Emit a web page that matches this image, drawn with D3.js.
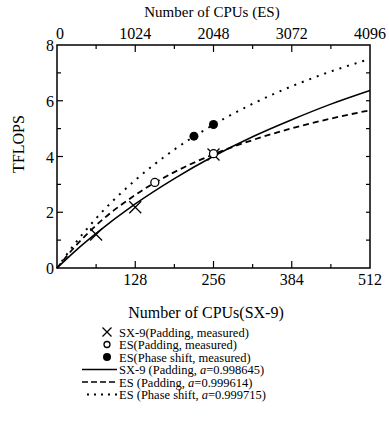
<!doctype html>
<html lang="en">
<head>
  <style>
    body { margin: 0; background: #fff; }
    svg text { font-family: "Liberation Serif", "DejaVu Serif", serif; fill: #000; }
  </style>
  <script src="https://d3js.org/d3.v7.min.js"></script>
</head>
<body>
  <script>
    // fitted curves
    const sx9Cpus = [0, 32, 64, 128, 192, 256, 320, 384, 448, 512];
    const sx9Fit = [0, 0.65, 1.24, 2.3, 3.21, 4.01, 4.71, 5.32, 5.88, 6.37];
    const esCpus = [0, 256, 512, 1024, 1536, 2048, 2560, 3072, 3584, 4096];
    const esPadFit = [0, 0.83, 1.53, 2.62, 3.44, 4.08, 4.59, 5.01, 5.36, 5.66];
    const esPhaseFit = [0, 0.95, 1.78, 3.15, 4.25, 5.14, 5.89, 6.52, 7.05, 7.5];

    // measured points
    const sx9MeasCpus = [64, 128, 256];
    const sx9MeasTflops = [1.2, 2.18, 4.07];
    const esPadMeasCpus = [1280, 2048];
    const esPadMeasTflops = [3.07, 4.1];
    const esPhaseMeasCpus = [1792, 2048];
    const esPhaseMeasTflops = [4.73, 5.15];

    const bottomTicks = [128, 256, 384, 512];
    const topTicks = [0, 1024, 2048, 3072, 4096];
    const yTicks = [0, 2, 4, 6, 8];

    const legendLabels = [
      ["SX-9(Padding, measured)"],
      ["ES(Padding, measured)"],
      ["ES(Phase shift, measured)"],
      ["SX-9 (Padding, ", "0.998645)"],
      ["ES (Padding, ", "0.999614)"],
      ["ES (Phase shift, ", "0.999715)"]
    ];

    const W = 389, H = 436;
    const pLeft = 57, pRight = 370, pTop = 45, pBottom = 268;

    const svg = d3.select("body").append("svg")
      .attr("width", W).attr("height", H);

    const x = d3.scaleLinear().domain([0, 512]).range([pLeft, pRight]);
    const xEs = d3.scaleLinear().domain([0, 4096]).range([pLeft, pRight]);
    const y = d3.scaleLinear().domain([0, 8]).range([pBottom, pTop]);

    // ticks (inward)
    const tickG = svg.append("g").attr("stroke", "#000").attr("stroke-width", 1.2);
    d3.range(64, 512, 64).forEach(v => {
      const len = v % 128 === 0 ? 7 : 4;
      tickG.append("line").attr("x1", x(v)).attr("x2", x(v))
        .attr("y1", pBottom).attr("y2", pBottom - len);
    });
    d3.range(512, 4096, 512).forEach(v => {
      const len = v % 1024 === 0 ? 7 : 4;
      tickG.append("line").attr("x1", xEs(v)).attr("x2", xEs(v))
        .attr("y1", pTop).attr("y2", pTop + len);
    });
    d3.range(1, 8).forEach(v => {
      const len = v % 2 === 0 ? 6 : 4;
      tickG.append("line").attr("x1", pLeft).attr("x2", pLeft + len)
        .attr("y1", y(v)).attr("y2", y(v));
      tickG.append("line").attr("x1", pRight).attr("x2", pRight - 4)
        .attr("y1", y(v)).attr("y2", y(v));
    });

    svg.append("rect")
      .attr("x", pLeft).attr("y", pTop)
      .attr("width", pRight - pLeft).attr("height", pBottom - pTop)
      .attr("fill", "none").attr("stroke", "#000").attr("stroke-width", 1.5);

    // tick labels
    svg.selectAll(".bl").data(bottomTicks).enter().append("text")
      .attr("font-size", 16).attr("text-anchor", "middle")
      .attr("x", d => x(d)).attr("y", 285).text(d => d);
    svg.selectAll(".tl").data(topTicks).enter().append("text")
      .attr("font-size", 16).attr("text-anchor", "middle")
      .attr("x", d => xEs(d) + (d === 0 ? 3 : 0)).attr("y", 39).text(d => d);
    svg.selectAll(".yl").data(yTicks).enter().append("text")
      .attr("font-size", 16).attr("text-anchor", "end")
      .attr("x", 54).attr("y", d => y(d) + 6).text(d => d);

    // axis titles
    svg.append("text").attr("text-anchor", "middle").attr("font-size", 15)
      .attr("x", 212).attr("y", 17).text("Number of CPUs (ES)");
    svg.append("text").attr("text-anchor", "middle").attr("font-size", 16)
      .attr("x", 206).attr("y", 318).text("Number of CPUs(SX-9)");
    svg.append("text").attr("text-anchor", "middle").attr("font-size", 16)
      .attr("transform", "translate(24,144) rotate(-90)").text("TFLOPS");

    // curves
    const line = d3.line().curve(d3.curveMonotoneX);
    const plot = svg.append("g");
    plot.append("path")
      .attr("d", line(sx9Cpus.map((c, i) => [x(c), y(sx9Fit[i])])))
      .attr("fill", "none").attr("stroke", "#000").attr("stroke-width", 1.5);
    plot.append("path")
      .attr("d", line(esCpus.map((c, i) => [xEs(c), y(esPadFit[i])])))
      .attr("fill", "none").attr("stroke", "#000").attr("stroke-width", 1.8)
      .attr("stroke-dasharray", "6,4");
    plot.append("path")
      .attr("d", line(esCpus.map((c, i) => [xEs(c), y(esPhaseFit[i])])))
      .attr("fill", "none").attr("stroke", "#000").attr("stroke-width", 2)
      .attr("stroke-dasharray", "2,6");

    // markers
    const cross = (g, cx, cy, s) => {
      g.append("path")
        .attr("d", `M${cx - s},${cy - s}L${cx + s},${cy + s}M${cx - s},${cy + s}L${cx + s},${cy - s}`)
        .attr("stroke", "#000").attr("stroke-width", 1.3).attr("fill", "none");
    };
    sx9MeasCpus.forEach((c, i) => cross(plot, x(c), y(sx9MeasTflops[i]), 6));
    plot.selectAll(".op").data(esPadMeasCpus).enter().append("circle")
      .attr("cx", d => xEs(d)).attr("cy", (d, i) => y(esPadMeasTflops[i]))
      .attr("r", 4).attr("fill", "#fff").attr("stroke", "#000").attr("stroke-width", 1.3);
    plot.selectAll(".fp").data(esPhaseMeasCpus).enter().append("circle")
      .attr("cx", d => xEs(d)).attr("cy", (d, i) => y(esPhaseMeasTflops[i]))
      .attr("r", 4.5).attr("fill", "#000");

    // legend
    const lg = svg.append("g");
    const rowY = i => 332 + i * 12.5;
    cross(lg, 107, rowY(0), 4.5);
    lg.append("circle").attr("cx", 107).attr("cy", rowY(1)).attr("r", 3)
      .attr("fill", "#fff").attr("stroke", "#000").attr("stroke-width", 1.3);
    lg.append("circle").attr("cx", 107).attr("cy", rowY(2)).attr("r", 4).attr("fill", "#000");
    lg.append("line").attr("x1", 82).attr("x2", 117).attr("y1", rowY(3)).attr("y2", rowY(3))
      .attr("stroke", "#000").attr("stroke-width", 1.5);
    lg.append("line").attr("x1", 82).attr("x2", 117).attr("y1", rowY(4)).attr("y2", rowY(4))
      .attr("stroke", "#000").attr("stroke-width", 1.5).attr("stroke-dasharray", "6,3");
    lg.append("line").attr("x1", 87).attr("x2", 117).attr("y1", rowY(5)).attr("y2", rowY(5))
      .attr("stroke", "#000").attr("stroke-width", 1.8).attr("stroke-dasharray", "2,5");

    legendLabels.forEach((parts, i) => {
      const t = lg.append("text").attr("font-size", 12.5)
        .attr("x", 119).attr("y", rowY(i) + 4.5);
      t.append("tspan").text(parts[0]);
      if (parts.length > 1) {
        t.append("tspan").attr("font-style", "italic").text("a");
        t.append("tspan").text("=" + parts[1]);
      }
    });
  </script>
</body>
</html>
